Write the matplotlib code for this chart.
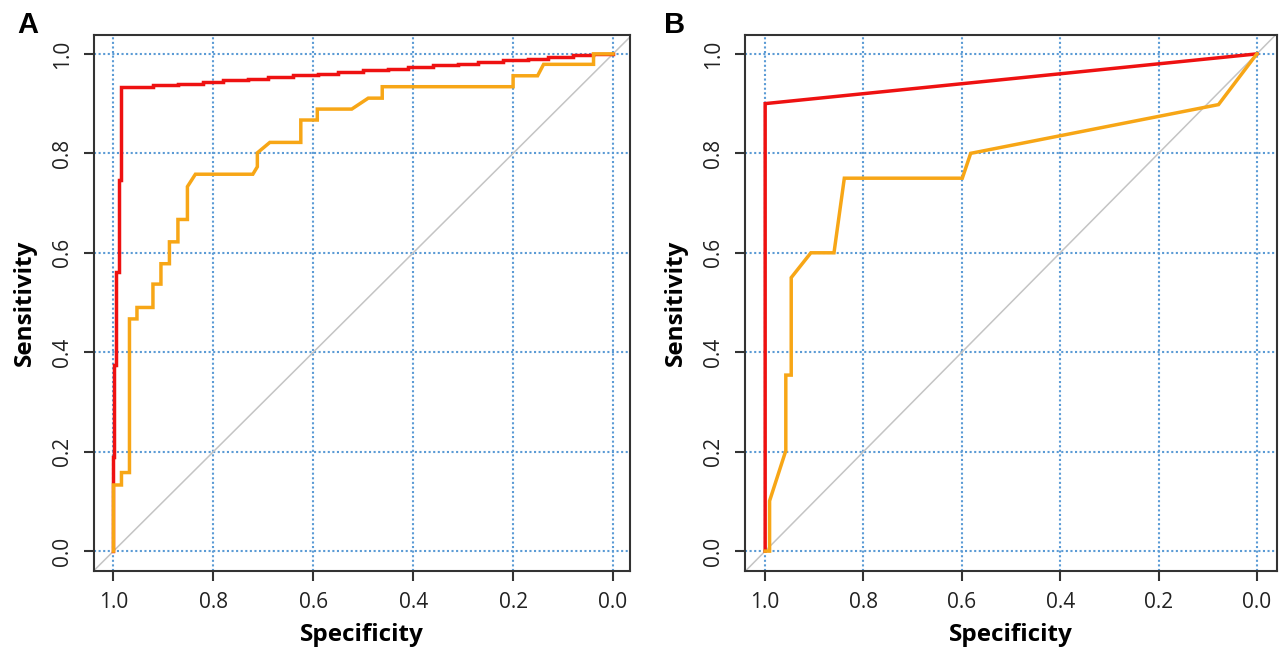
import matplotlib
matplotlib.use("Agg")
import matplotlib.pyplot as plt

# ---- data (specificity, sensitivity) ----
# Panel A
a_red_spec = [1.0, 1.0, 0.998, 0.994, 0.989, 0.985, 0.92, 0.87, 0.82, 0.78, 0.73, 0.69,
              0.64, 0.59, 0.55, 0.50, 0.45, 0.41, 0.36, 0.31, 0.27, 0.22, 0.17, 0.13,
              0.08, 0.04, 0.0]
a_red_sens = [0.0, 0.19, 0.374, 0.561, 0.746, 0.933, 0.937, 0.940, 0.943, 0.947, 0.950,
              0.953, 0.957, 0.960, 0.963, 0.967, 0.970, 0.973, 0.977, 0.980, 0.983,
              0.987, 0.990, 0.993, 0.997, 1.0, 1.0]

a_orange_spec = [1.0, 1.0, 0.984, 0.984, 0.968, 0.968, 0.953, 0.953, 0.921, 0.921, 0.905,
                 0.905, 0.888, 0.888, 0.871, 0.871, 0.852, 0.852, 0.836, 0.721, 0.712,
                 0.712, 0.687, 0.625, 0.625, 0.592, 0.592, 0.523, 0.490, 0.462, 0.462,
                 0.200, 0.200, 0.151, 0.139, 0.039, 0.039, 0.0]
a_orange_sens = [0.0, 0.133, 0.133, 0.158, 0.158, 0.467, 0.467, 0.490, 0.490, 0.537, 0.537,
                 0.578, 0.578, 0.622, 0.622, 0.667, 0.667, 0.733, 0.758, 0.758, 0.773,
                 0.801, 0.822, 0.822, 0.867, 0.867, 0.889, 0.889, 0.911, 0.911, 0.934,
                 0.934, 0.956, 0.956, 0.979, 0.979, 1.0, 1.0]

# Panel B
b_red_spec = [1.0, 1.0, 0.95, 0.90, 0.85, 0.80, 0.75, 0.70, 0.65, 0.60, 0.55, 0.50, 0.45,
              0.40, 0.35, 0.30, 0.25, 0.20, 0.15, 0.10, 0.05, 0.0]
b_red_sens = [0.0, 0.90, 0.905, 0.910, 0.915, 0.920, 0.925, 0.930, 0.935, 0.940, 0.945,
              0.950, 0.955, 0.960, 0.965, 0.970, 0.975, 0.980, 0.985, 0.990, 0.995, 1.0]

b_orange_spec = [1.0, 0.991, 0.991, 0.958, 0.958, 0.947, 0.947, 0.907, 0.860, 0.839,
                 0.599, 0.582, 0.078, 0.0]
b_orange_sens = [0.0, 0.0, 0.101, 0.202, 0.354, 0.354, 0.550, 0.600, 0.600, 0.750,
                 0.750, 0.800, 0.898, 1.0]

ticks = [1.0, 0.8, 0.6, 0.4, 0.2, 0.0]
tick_labels = ["1.0", "0.8", "0.6", "0.4", "0.2", "0.0"]

red = '#ee1111'
orange = '#f7a616'
grid_blue = '#5b9bd5'

plt.rcParams['font.family'] = ['Open Sans', 'DejaVu Sans']

fig = plt.figure(figsize=(12.85, 6.5), dpi=100)


def roc_panel(rect, xlim, red_spec, red_sens, orange_spec, orange_sens, red_steps=True):
    ax = fig.add_axes(rect)
    ax.set_xlim(*xlim)
    ax.set_ylim(-0.040, 1.038)

    # dotted blue grid at the tick positions
    for t in ticks:
        ax.axvline(t, color=grid_blue, lw=1.5, ls=(0, (1, 1.2)), zorder=1)
        ax.axhline(t, color=grid_blue, lw=1.5, ls=(0, (1, 1.2)), zorder=1)

    # reference diagonal
    ax.axline((1.0, 0.0), (0.0, 1.0), color='#c4c4c4', lw=1.1, zorder=2)

    ax.plot(red_spec, red_sens, color=red, lw=2.5, zorder=3,
            drawstyle='steps-post' if red_steps else 'default',
            solid_joinstyle='miter')
    ax.plot(orange_spec, orange_sens, color=orange, lw=2.5, zorder=4,
            solid_joinstyle='miter')

    ax.set_xticks(ticks)
    ax.set_xticklabels(tick_labels)
    ax.set_yticks(ticks)
    ax.set_yticklabels(tick_labels, rotation=90, va='center')
    ax.tick_params(length=7, width=1.5, color='#333333', labelsize=15,
                   labelcolor='#222222', pad=8)
    for s in ax.spines.values():
        s.set_color('#333333')
        s.set_linewidth(1.5)

    ax.set_xlabel('Specificity', fontsize=17.5, fontweight='bold', va='center')
    ax.set_ylabel('Sensitivity', fontsize=17.5, fontweight='bold', va='center')
    return ax


ax_a = roc_panel([94 / 1285, 79 / 650, 536 / 1285, 536 / 650], (1.039, -0.034),
                 a_red_spec, a_red_sens, a_orange_spec, a_orange_sens)
ax_a.xaxis.set_label_coords(0.5, -0.120)
ax_a.yaxis.set_label_coords(-0.129, 0.5)

ax_b = roc_panel([745 / 1285, 79 / 650, 532 / 1285, 536 / 650], (1.041, -0.041),
                 b_red_spec, b_red_sens, b_orange_spec, b_orange_sens, red_steps=False)
ax_b.xaxis.set_label_coords(0.5, -0.120)
ax_b.yaxis.set_label_coords(-0.130, 0.5)

fig.text(28 / 1285, 1 - 25 / 650, 'A', fontsize=21, fontweight='bold',
         family='Liberation Sans', ha='center', va='center')
fig.text(675 / 1285, 1 - 25 / 650, 'B', fontsize=21, fontweight='bold',
         family='Liberation Sans', ha='center', va='center')

fig.savefig('out.png', dpi=100)
